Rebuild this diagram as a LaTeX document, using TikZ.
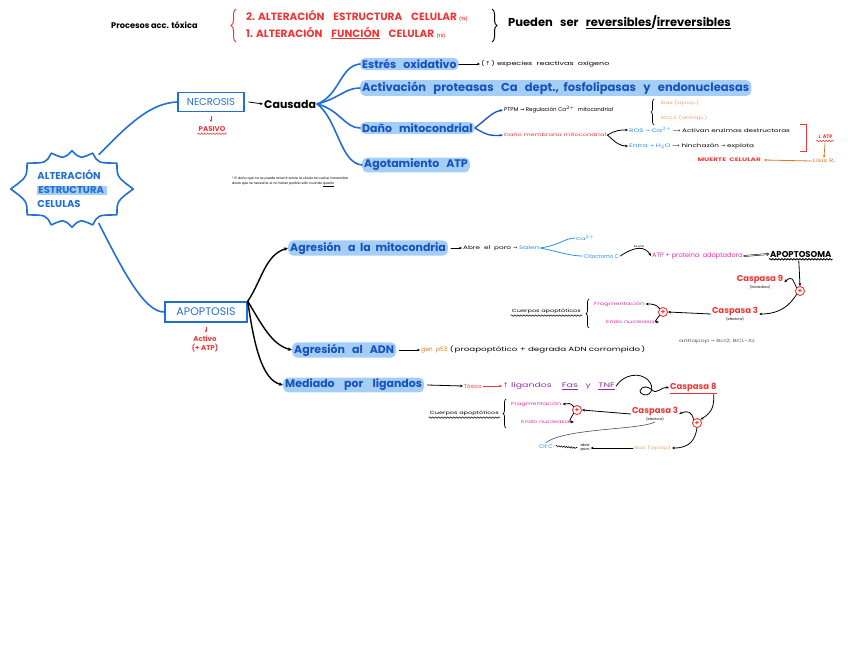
\documentclass[tikz,border=0pt]{standalone}
\usepackage{fontspec}
\setmainfont{Poppins}
\newfontfamily\wide[FakeStretch=1.45]{Poppins}
\newfontfamily\sym{DejaVu Sans}
\usetikzlibrary{shapes.geometric,calc,decorations.pathreplacing,decorations.pathmorphing,arrows.meta}
\definecolor{hblue}{RGB}{31,111,214}
\definecolor{tblue}{RGB}{22,82,190}
\definecolor{hl}{RGB}{164,206,245}
\definecolor{rred}{RGB}{238,54,54}
\definecolor{mag}{RGB}{232,42,170}
\definecolor{orng}{RGB}{240,165,110}
\definecolor{dorng}{RGB}{215,120,30}
\definecolor{purp}{RGB}{150,40,170}
\definecolor{lblue}{RGB}{40,140,235}
\begin{document}
\begin{tikzpicture}[x=1pt,y=1pt,
 blin/.style={draw=hblue, line width=1.6pt, line cap=round},
 klin/.style={draw=black, line width=1.4pt, line cap=round},
 tlin/.style={draw=black, line width=0.8pt, line cap=round},
 tip/.style={-{Stealth[length=4pt,width=3.5pt]}},
 stip/.style={-{Stealth[length=3pt,width=2.6pt]}},
 hlt/.style={fill=hl, rounded corners=5pt, text=tblue, font=\bfseries\fontsize{11}{12}\selectfont, inner xsep=2pt, inner ysep=1.5pt, anchor=west},
 sm/.style={font=\wide\fontsize{5.5}{6}\selectfont, inner sep=1pt, anchor=west},
 xs/.style={font=\wide\fontsize{4.5}{5}\selectfont, inner sep=1pt, anchor=west},
 boxed/.style={draw=hblue, line width=1.5pt, text=hblue, font=\fontsize{10}{12}\selectfont, inner sep=2pt},
 plus/.style={circle, draw=rred, line width=0.9pt, text=rred, inner sep=0pt, minimum size=9pt, font=\bfseries\fontsize{7}{7}\selectfont},
 casp/.style={align=center, inner sep=1pt, font=\fontsize{3.5}{4}\selectfont},
 wavy/.style={decorate, decoration={snake, amplitude=0.7pt, segment length=3pt}, line width=0.6pt},
]
\useasboundingbox (0,0) rectangle (848,-656);

% ---------- header ----------
\node[anchor=west, inner sep=1pt, font=\bfseries\fontsize{8.2}{9}\selectfont] (proc) at (110,-25) {Procesos acc. tóxica};
\draw[rred, line width=1pt, decorate, decoration={brace, amplitude=5pt}] (236,-42) -- (236,-9);
\node[anchor=west, inner sep=1pt, text=rred, font=\bfseries\fontsize{10.5}{11}\selectfont] (l1) at (245,-16) {2. ALTERACIÓN\ \ \ \ ESTRUCTURA\ \ \ \ CELULAR {\fontsize{4}{4}\selectfont(TS)}};
\node[anchor=west, inner sep=1pt, text=rred, font=\bfseries\fontsize{10.5}{11}\selectfont] (l2) at (245,-33) {1. ALTERACIÓN\ \ \ \ \underline{FUNCIÓN}\ \ \ \ CELULAR {\fontsize{4}{4}\selectfont(TS)}};
\draw[black, line width=1pt, decorate, decoration={brace, amplitude=5pt}] (492,-9) -- (492,-42);
\node[anchor=west, inner sep=1pt, font=\bfseries\fontsize{11.5}{12}\selectfont] (pued) at (507,-22) {Pueden\ \ \ ser\ \ \ \underline{reversibles}/\underline{irreversibles}};

% ---------- center ----------
\node[ellipse, minimum width=122pt, minimum height=76pt, align=left, text=hblue, font=\bfseries\fontsize{10}{14}\selectfont, inner sep=0pt] (cen) at (72,-189)
 {ALTERACIÓN\\{\setlength{\fboxsep}{1pt}\colorbox{hl}{ESTRUCTURA\,}}\\CELULAS};
\draw[blin, line join=round] (cen.0) \foreach \a [evaluate=\a as \b using int(\a-15)] in {30,60,...,330} { .. controls ($(cen.\b)!0.2!(cen.center)$) .. (cen.\a) } .. controls ($(cen.345)!0.2!(cen.center)$) .. (cen.0) -- cycle;

% ---------- necrosis ----------
\node[boxed, minimum width=66pt, minimum height=19pt] (necro) at (211,-102) {NECROSIS};
\draw[blin] (cen.52) .. controls (128,-125) and (150,-103) .. (necro.west);
\coordinate (na) at ([yshift=-4pt]necro.south);
\coordinate (nb) at ([yshift=-10pt]necro.south);
\draw[rred, line width=0.8pt, stip] (na) -- (nb);
\node[inner sep=1pt, text=rred, font=\bfseries\fontsize{7}{8}\selectfont] (pasivo) at (212,-129) {PASIVO};
\draw[rred, wavy] ([yshift=-1pt]pasivo.south west) -- ([yshift=-1pt]pasivo.south east);
\node[anchor=west, inner sep=1pt, font=\bfseries\fontsize{11}{12}\selectfont] (causada) at (263,-104) {Causada};
\draw[tlin, stip] ([xshift=4pt]necro.east) -- (causada.west);

\node[hlt] (es) at (360,-64) {Estrés\ \ \ oxidativo};
\node[hlt, font=\bfseries\fontsize{11.5}{12}\selectfont] (act) at (360,-88) {Activación\ \ \ proteasas\ \ \ Ca\ \ \ dept.,\ \ fosfolipasas\ \ \ y\ \ \ endonucleasas};
\node[hlt] (dano) at (360,-128) {Daño\ \ \ mitocondrial};
\node[hlt] (agot) at (362,-165) {Agotamiento\ \ \ ATP};
\draw[blin] (causada.east) .. controls (340,-95) and (340,-66) .. (es.west);
\draw[blin] (causada.east) .. controls (340,-98) and (345,-88) .. (act.west);
\draw[blin] (causada.east) .. controls (340,-110) and (345,-128) .. (dano.west);
\draw[blin] (causada.east) .. controls (338,-120) and (340,-163) .. (agot.west);

\node[sm] (esx) at (480,-64) {(\,{\sym↑}\,) especies\ \ reactivas\ \ oxígeno};
\draw[tlin, stip] (es.east) -- (esx.west);

\node[sm, font=\fontsize{5.5}{6}\selectfont] (ptpm) at (503,-110) {PTPM {\sym→} Regulación Ca$^{2+}$\ \ mitocondrial};
\node[sm, font=\wide\fontsize{4.6}{5}\selectfont, text=rred] (dmm) at (503,-135) {Daño\ membrana\ mitocondrial};
\draw[draw=tblue, line width=1.3pt, stip] (dano.east) .. controls (488,-118) and (492,-112) .. (ptpm.west);
\draw[draw=tblue, line width=1.3pt, stip] (dano.east) .. controls (488,-136) and (492,-136) .. (dmm.west);
\draw[black, line width=0.7pt, decorate, decoration={brace, amplitude=3pt}] (654,-125) -- (654,-99);
\node[xs, text=orng] (bax1) at (660,-103) {Bax (apop.)};
\node[xs, text=orng] (bcl1) at (660,-118) {BCL2 (antiap.)};

\node[sm, font=\wide\fontsize{5}{6}\selectfont] (ros) at (628,-130) {{\color{lblue}ROS {\sym→} Ca$^{2+}$} {\sym⟶} Activan\ enzimas\ destructoras};
\node[sm, font=\wide\fontsize{5}{6}\selectfont] (erro) at (628,-146) {{\color{lblue}Entra {\sym→} H$_2$O} {\sym⟶} hinchazón {\sym→} explota};
\draw[tlin, stip] (dmm.east) .. controls (616,-130) and (620,-130) .. (ros.west);
\draw[tlin, stip] (dmm.east) .. controls (616,-143) and (620,-146) .. (erro.west);
\draw[rred, line width=0.8pt] (800,-124) -- (806,-124) -- (806,-151) -- (800,-151);
\node[inner sep=1pt, text=rred, font=\bfseries\fontsize{5}{6}\selectfont] (datp) at (825,-137) {{\sym↓} ATP};
\draw[rred, wavy] ([yshift=-1pt]datp.south west) -- ([yshift=-1pt]datp.south east);
\node[inner sep=1pt, text=dorng, font=\wide\fontsize{5}{6}\selectfont] (lisis) at (824,-161) {Lisis R.};
\draw[dorng, line width=0.7pt, stip] ([yshift=-3pt]datp.south) -- (lisis.north);
\node[inner sep=1pt, anchor=east, text=rred, font=\wide\bfseries\fontsize{5}{6}\selectfont] (muerte) at (762,-160) {MUERTE\ \ CELULAR};
\draw[dorng, line width=0.8pt, stip] (lisis.west) -- ([xshift=2pt]muerte.east);

\node[anchor=west, align=left, inner sep=0pt, font=\fontsize{3.3}{4.4}\selectfont] (nota) at (232,-182) {* El daño que no se puede revertir sobre la célula se vuelve irreversible\\ dado que se necesita, el no haber podido salir cuando \underline{queda}};

% ---------- apoptosis ----------
\node[boxed, minimum width=82pt, minimum height=20pt, font=\fontsize{11}{12}\selectfont] (apo) at (206,-312) {APOPTOSIS};
\draw[blin] (cen.-52) .. controls (125,-275) and (145,-312) .. (apo.west);
\coordinate (aa) at ([yshift=-4pt]apo.south);
\coordinate (ab) at ([yshift=-10pt]apo.south);
\draw[rred, line width=0.8pt, stip] (aa) -- (ab);
\node[inner sep=1pt, align=center, text=rred, font=\bfseries\fontsize{7}{8.5}\selectfont] (activo) at (205,-344) {Activo\\(+ ATP)};

\node[hlt] (agm) at (288,-248) {Agresión\ \ \ a\ \ la\ \ mitocondria};
\node[hlt] (adn) at (292,-350) {Agresión\ \ \ al\ \ \ ADN};
\node[hlt] (lig) at (283,-385) {Mediado\ \ \ \ por\ \ \ \ ligandos};
\draw[klin, tip] (apo.north east) .. controls (262,-280) and (265,-255) .. (agm.west);
\draw[klin, tip] (apo.north east) .. controls (262,-325) and (272,-345) .. (adn.west);
\draw[klin, tip] (apo.north east) .. controls (254,-345) and (262,-380) .. (lig.west);

% mitocondria branch
\node[xs, font=\wide\fontsize{5}{6}\selectfont] (abre) at (462,-248) {Abre\ \ el\ \ poro {\sym→} {\color{lblue}Salen}};
\draw[tlin, stip] ([xshift=3pt]agm.east) -- (abre.west);
\node[xs, text=lblue] (ca) at (575,-238) {Ca$^{2+}$};
\node[sm, font=\fontsize{5.5}{6}\selectfont, text=lblue] (cit) at (583,-256) {Citocromo C};
\draw[draw=lblue, line width=0.8pt] (abre.east) .. controls (560,-245) and (565,-238) .. (ca.west);
\draw[draw=lblue, line width=0.8pt] (abre.east) .. controls (560,-252) and (570,-256) .. (cit.west);
\node[sm, font=\fontsize{6.5}{7}\selectfont, text=mag] (atpp) at (651,-256) {ATP + proteína\ \ adaptadora};
\draw[tlin, stip] (cit.east) .. controls (635,-246) and (645,-246) .. node[above, inner sep=1pt, font=\fontsize{3}{3}\selectfont]{se une} (atpp.west);
\node[anchor=west, inner sep=1pt, font=\bfseries\fontsize{8.5}{10}\selectfont] (apsm) at (769,-254) {APOPTOSOMA};
\draw[wavy, line width=0.8pt] ([yshift=-1pt]apsm.south west) -- ([yshift=-1pt]apsm.south east);
\draw[-{Implies}, double, line width=0.5pt] (atpp.east) -- (apsm.west);
\node[plus] (p1) at (800,-291) {+};
\draw[tlin, stip] ([xshift=-2pt,yshift=-3pt]apsm.south) -- (p1.north);
\node[casp] (c9) at (760,-282) {{\color{rred}\bfseries\fontsize{8.5}{9}\selectfont Caspasa 9}\\(iniciadora)};
\node[casp] (c3a) at (735,-314) {{\color{rred}\bfseries\fontsize{8.5}{9}\selectfont Caspasa 3}\\(efectora)};
\draw[tlin, stip] (p1.north west) .. controls (792,-278) and (792,-276) .. (c9.east);
\draw[tlin, stip] (p1.south west) .. controls (790,-305) and (780,-314) .. (c3a.east);
\node[plus] (p2) at (663,-312) {+};
\draw[tlin, stip] (c3a.west) -- (p2.east);
\node[xs, text=mag] (frag1) at (593,-304) {Fragmentación};
\node[xs, text=mag] (endo1) at (605,-322) {Endo nucleasas};
\draw[tlin, stip] (p2.north west) .. controls (656,-304) and (652,-304) .. (frag1.east);
\draw[tlin, stip] (p2.south west) .. controls (656,-320) and (654,-322) .. (endo1.east);
\draw[black, line width=0.7pt, decorate, decoration={brace, amplitude=3pt}] (589,-328) -- (589,-299);
\node[xs, anchor=east] (cuer1) at (582,-311) {Cuerpos\ apoptóticos};
\draw[wavy, line width=0.5pt] ([yshift=-1pt]cuer1.south west) -- ([yshift=-1pt]cuer1.south east);

% ADN branch
\node[sm, font=\fontsize{6}{7}\selectfont, text=dorng] (p53) at (420,-350) {gen\ \ p53};
\draw[tlin, stip] ([xshift=3pt]adn.east) -- (p53.west);
\node[sm, anchor=west, font=\wide\fontsize{6}{7}\selectfont] (p53x) at (p53.east) {(\,proapoptótico\ + degrada\ ADN\ corrompido\,)};
\node[xs, text=black!65] (antia) at (678,-341) {antiapop {\sym→} Bcl2, BCL-XL};

% ligandos branch
\node[sm, font=\fontsize{5.5}{6}\selectfont, text=rred] (tox) at (463,-386) {Tóxico};
\draw[tlin, stip] ([xshift=3pt]lig.east) -- (tox.west);
\node[sm, font=\wide\fontsize{6.5}{7}\selectfont, text=purp] (ligf) at (502,-386) {{\sym↑} ligandos\ \ \ \ \underline{Fas}\ \ \ y\ \ \ \underline{TNF}};
\draw[line width=0.6pt, draw=rred, stip] (tox.east) -- (ligf.west);
\node[anchor=west, inner sep=1pt, text=rred, font=\bfseries\fontsize{8.5}{9}\selectfont] (c8) at (669,-388) {\underline{Caspasa 8}};
\draw[tlin, stip] (ligf.east) .. controls (624,-374) and (640,-372) .. (648,-380) .. controls (656,-388) and (650,-398) .. (642,-394) .. controls (636,-390) and (645,-383) .. (652,-390) .. controls (657,-395) and (662,-386) .. (c8.west);
\node[plus] (p3) at (697,-423) {+};
\draw[tlin, stip] ([xshift=-4pt]c8.south east) .. controls (714,-405) and (713,-412) .. (p3.north east);
\node[casp] (c3b) at (655,-414) {{\color{rred}\bfseries\fontsize{8.5}{9}\selectfont Caspasa 3}\\(efectora)};
\draw[tlin, stip] (p3.north west) .. controls (692,-412) and (688,-410) .. (c3b.east);
\node[plus] (p4) at (577,-410) {+};
\draw[tlin, stip] (c3b.west) -- (p4.east);
\node[xs, text=mag] (frag2) at (510,-404) {Fragmentación};
\node[xs, text=mag] (endo2) at (520,-422) {Endo nucleasas};
\draw[tlin, stip] (p4.north west) .. controls (570,-402) and (568,-404) .. (frag2.east);
\draw[tlin, stip] (p4.south west) .. controls (570,-420) and (568,-422) .. (endo2.east);
\draw[black, line width=0.7pt, decorate, decoration={brace, amplitude=3pt}] (506,-428) -- (506,-399);
\node[xs, anchor=east] (cuer2) at (500,-413) {Cuerpos\ apoptóticos};
\draw[wavy, line width=0.5pt] ([yshift=-1pt]cuer2.south west) -- ([yshift=-1pt]cuer2.south east);

\node[xs, text=orng] (bax2) at (633,-448) {Bax (apop)};
\draw[tlin, stip] (p3.south) .. controls (695,-440) and (690,-448) .. (bax2.east);
\node[align=center, inner sep=1pt, font=\fontsize{3.8}{4}\selectfont] (abre2) at (585,-448) {abre\\poro};
\draw[tlin, stip] (bax2.west) -- (abre2.east);
\node[sm, font=\fontsize{5.5}{6}\selectfont, text=lblue] (citc) at (538,-446) {Cit C};
\draw[line width=0.5pt, decorate, decoration={snake, amplitude=0.7pt, segment length=2.5pt}] ([xshift=2pt]citc.east) -- ([xshift=-2pt]abre2.west);
\draw[line width=0.6pt, draw=black!70] (c3b.south) .. controls (640,-430) and (565,-428) .. (citc.north);
\end{tikzpicture}
\end{document}
